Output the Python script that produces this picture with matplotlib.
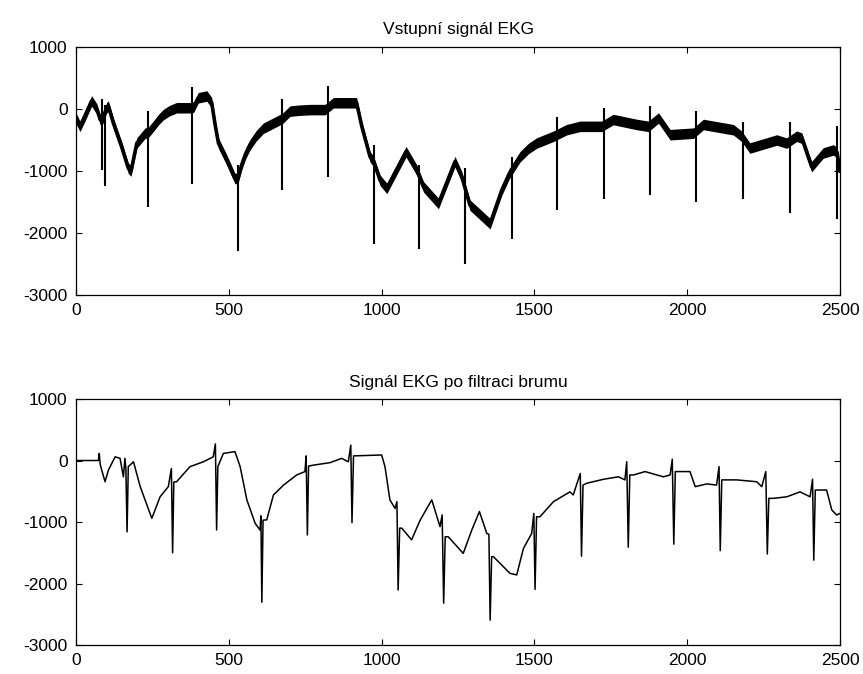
import matplotlib
matplotlib.use("Agg")
from matplotlib import pyplot as plt

plt.rcParams['font.family'] = ['Liberation Sans', 'DejaVu Sans']
plt.rcParams['axes.unicode_minus'] = False

# Input ECG: centre of the noisy band (sample, value)
raw_x = [0, 13, 29, 51, 68, 79, 88, 100, 106, 122, 150, 171, 180, 199, 226, 236,
         253, 270, 286, 305, 329, 373, 385, 400, 428, 444, 455, 466, 493, 520,
         530, 542, 555, 569, 590, 613, 657, 676, 700, 730, 766, 815, 842, 918,
         935, 962, 974, 995, 1017, 1080, 1115, 1137, 1186, 1240, 1262, 1289,
         1355, 1393, 1418, 1453, 1480, 1507, 1562, 1605, 1649, 1682, 1720, 1758,
         1835, 1873, 1906, 1944, 2020, 2053, 2151, 2178, 2205, 2293, 2325, 2358,
         2375, 2407, 2445, 2478, 2490, 2500]
raw_y = [-150, -280, -115, 130, 0, -170, -150, 20, 45, -225, -620, -955, -1000,
         -550, -390, -380, -280, -170, -90, -30, 20, 20, 30, 180, 210, 100, -250,
         -550, -820, -1120, -1120, -900, -720, -580, -430, -310, -200, -150, -35,
         -20, -10, -10, 100, 100, -280, -770, -850, -1150, -1280, -690, -985,
         -1255, -1525, -850, -1090, -1550, -1850, -1310, -1040, -770, -640, -550,
         -440, -335, -280, -280, -280, -170, -250, -280, -145, -415, -390, -250,
         -335, -440, -630, -500, -550, -440, -470, -930, -710, -660, -700, -1000]
band_half = 85  # half-height of the mains hum band

# QRS complexes in the input signal: position, peak, trough
qrs_x = [86, 95, 236, 381, 530, 675, 824, 974, 1123, 1274, 1425, 1575, 1727,
         1878, 2029, 2183, 2335, 2489]
qrs_hi = [155, 60, -35, 360, -900, 165, 370, -580, -900, -950, -770, -130, 20,
          45, -35, -215, -215, -280]
qrs_lo = [-980, -1245, -1580, -1210, -2295, -1300, -1090, -2175, -2260, -2500,
          -2095, -1635, -1445, -1390, -1500, -1445, -1670, -1770]

# ECG after mains hum filtering
filt_x = [0, 73, 76, 79, 84, 95, 106, 128, 144, 155, 160, 163, 167, 171, 188,
          210, 248, 275, 302, 312, 316, 320, 329, 373, 417, 449, 456, 460, 464,
          482, 520, 537, 559, 586, 602, 605, 608, 612, 624, 646, 679, 722, 749,
          753, 757, 761, 777, 831, 869, 891, 899, 903, 908, 1000, 1011, 1027,
          1044, 1050, 1054, 1059, 1066, 1098, 1126, 1164, 1191, 1198, 1203, 1208,
          1218, 1267, 1295, 1320, 1344, 1351, 1355, 1360, 1366, 1420, 1442, 1464,
          1491, 1498, 1502, 1507, 1518, 1562, 1616, 1627, 1650, 1654, 1659, 1671,
          1726, 1775, 1796, 1802, 1807, 1812, 1824, 1862, 1922, 1944, 1951, 1956,
          1961, 1976, 2009, 2026, 2064, 2096, 2104, 2108, 2113, 2124, 2162, 2227,
          2244, 2257, 2262, 2267, 2282, 2326, 2369, 2402, 2410, 2414, 2419, 2429,
          2456, 2473, 2489, 2500]
filt_y = [0, 0, 115, -60, -155, -345, -155, 60, 35, -265, 35, -120, -1160, -100,
          -20, -425, -940, -590, -425, -130, -1500, -350, -345, -100, -20, 60,
          270, -1130, -100, 115, 145, -100, -640, -1020, -1130, -900, -2305, -970,
          -965, -560, -400, -235, -180, 75, -1210, -90, -75, -35, 35, -20, 250,
          -1010, 75, 90, -100, -640, -780, -670, -2105, -1100, -1100, -1290, -970,
          -640, -1075, -885, -2320, -1240, -1240, -1510, -1130, -830, -1185, -1200,
          -2595, -1565, -1565, -1835, -1860, -1430, -1185, -860, -2095, -915, -915,
          -670, -510, -560, -210, -1555, -400, -370, -305, -265, -315, -20, -1410,
          -235, -235, -180, -265, -235, 20, -1360, -180, -180, -180, -425, -380,
          -400, -100, -1465, -315, -315, -315, -345, -425, -180, -1520, -615,
          -615, -590, -510, -590, -305, -1620, -480, -480, -480, -805, -885, -860]

xticks = [0, 500, 1000, 1500, 2000, 2500]
yticks = [-3000, -2000, -1000, 0, 1000]

fig = plt.figure(figsize=(8.63, 6.74), dpi=100)
ax1 = fig.add_axes([0.0881, 0.5623, 0.8853, 0.3680])
ax2 = fig.add_axes([0.0881, 0.0430, 0.8853, 0.3650])

# noisy band + QRS spikes
lo = [v - band_half for v in raw_y]
hi = [v + band_half for v in raw_y]
ax1.fill_between(raw_x, lo, hi, color='black', lw=0)
ax1.plot(raw_x, raw_y, color='black', lw=2.6)
ax1.vlines(qrs_x, qrs_lo, qrs_hi, color='black', lw=1.5)
ax1.set_title('Vstupní signál EKG', fontsize=12.5, pad=9)

ax2.plot(filt_x, filt_y, color='black', lw=1.1)
ax2.set_title('Signál EKG po filtraci brumu', fontsize=12.5, pad=9)

for ax in (ax1, ax2):
    ax.set_xlim(0, 2500)
    ax.set_ylim(-3000, 1000)
    ax.set_xticks(xticks)
    ax.set_yticks(yticks)
    ax.tick_params(direction='in', top=True, right=True, length=4,
                   width=0.8, labelsize=12.5, pad=6)
    for s in ax.spines.values():
        s.set_linewidth(0.9)

plt.savefig('out.png', dpi=100)
